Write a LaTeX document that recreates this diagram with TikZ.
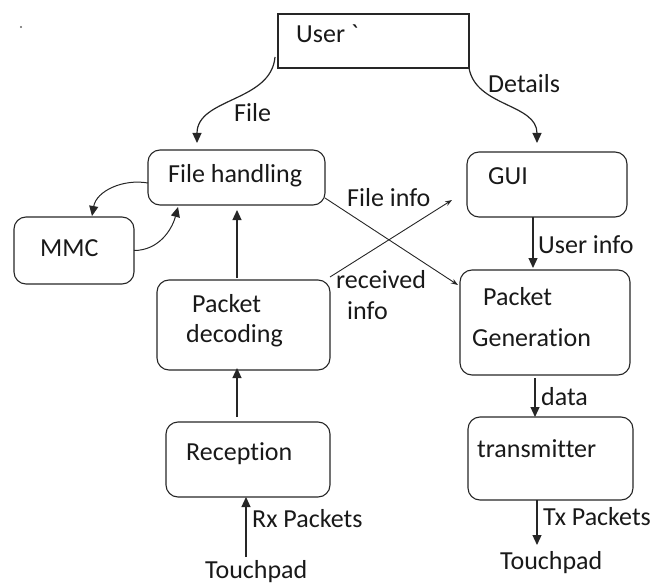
\documentclass[tikz,border=0pt]{standalone}
\usepackage{fontspec}
\setmainfont{Carlito}[Ligatures=NoCommon]
\usetikzlibrary{arrows.meta,calc}
\begin{document}
\begin{tikzpicture}[x=1pt,y=-1pt,
  box/.style={draw=black!85,line width=1.1pt,rounded corners=12pt,inner sep=0pt,outer sep=0pt},
  sqbox/.style={draw=black!85,line width=1.1pt,inner sep=0pt,outer sep=0pt},
  txt/.style={anchor=base west,inner sep=0pt,font=\fontsize{26}{30}\selectfont,text=black!90},
  arr/.style={draw=black!85,line width=1.2pt,-{Triangle[length=10pt,width=9pt]}},
  thin/.style={draw=black!85,line width=0.9pt,-{Stealth[length=7pt,width=5pt]}}]
\useasboundingbox (0,0) rectangle (652,585);
\fill[black!60] (21,27) circle (1.2pt);
% boxes
\node[sqbox,minimum width=191pt,minimum height=54pt] (user) at (373.5,41) {};
\node[box,minimum width=177pt,minimum height=55pt] (fh) at (236.5,177.5) {};
\node[box,minimum width=120pt,minimum height=67pt] (mmc) at (74,250.5) {};
\node[box,minimum width=160pt,minimum height=65pt] (gui) at (547,184.5) {};
\node[box,minimum width=173pt,minimum height=90pt] (pd) at (243.5,325) {};
\node[box,minimum width=164pt,minimum height=75pt] (rec) at (248,459.5) {};
\node[box,minimum width=170pt,minimum height=105pt] (pg) at (545,322.5) {};
\node[box,minimum width=165pt,minimum height=83pt] (tr) at (550.5,458.5) {};
% texts
\node[txt] (tuser) at (296,43) {User \textasciigrave};
\node[txt] (tfh) at (168,183) {File handling};
\node[txt] (tmmc) at (40,256) {MMC};
\node[txt] (tgui) at (488,185) {GUI};
\node[txt] (tpd1) at (192,312) {Packet};
\node[txt] (tpd2) at (186,342) {decoding};
\node[txt] (trec) at (186,460) {Reception};
\node[txt] (tpg1) at (483,305) {Packet};
\node[txt] (tpg2) at (472,346) {Generation};
\node[txt] (ttr) at (477,457) {transmitter};
\node[txt] (ltpl) at (205,578) {Touchpad};
\node[txt] (ltpr) at (500,569) {Touchpad};
% labels
\node[txt] (lfile) at (234,122) {File};
\node[txt] (ldet) at (488,93) {Details};
\node[txt] (lfinfo) at (347,207) {File info};
\node[txt] (luinfo) at (538,253) {User info};
\node[txt] (lrec1) at (336,288) {received};
\node[txt] (lrec2) at (347,319) {info};
\node[txt] (ldata) at (541,405) {data};
\node[txt] (lrx) at (252,527) {Rx Packets};
\node[txt] (ltx) at (543,525) {Tx Packets};
% connectors
\coordinate (rxs) at (246,557);
\coordinate (txe) at (537,545);
\draw[arr] ($(user.west)+(-3,16)$) to[out=-95,in=90] ($(fh.north)+(-39.5,-7)$);
\draw[arr] (user.south east) to[out=-80,in=90] ($(gui.north)+(-10,-9)$);
\draw[arr,line width=1pt] ($(fh.west)+(0,5.5)$) to[out=170,in=80] ($(mmc.north)+(18,-1)$);
\draw[arr,line width=1pt] (mmc.east) to[out=0,in=-105] ($(fh.south)+(-58.5,2)$);
\draw[arr] ($(pd.north)+(-6.5,-2)$) -- ($(fh.south)+(0.5,5)$);
\draw[arr] ($(rec.north)+(-11,-5)$) -- ($(pd.south)+(-6.5,-2)$);
\draw[arr] (rxs) -- (rxs |- rec.south);
\draw[arr] ($(gui.south)+(-14,0)$) -- ($(pg.north)+(-12,-2)$);
\draw[arr] ($(pg.south)+(-10,3)$) -- ($(tr.north)+(-15.5,0)$);
\draw[arr] (txe |- tr.south) -- (txe);
\draw[thin] ($(fh.south east)+(0,-7)$) -- ($(pg.west)+(-2,-37.5)$);
\draw[thin] ($(pd.north east)+(0,-3)$) -- ($(gui.west)+(-15,15.5)$);
\end{tikzpicture}
\end{document}
